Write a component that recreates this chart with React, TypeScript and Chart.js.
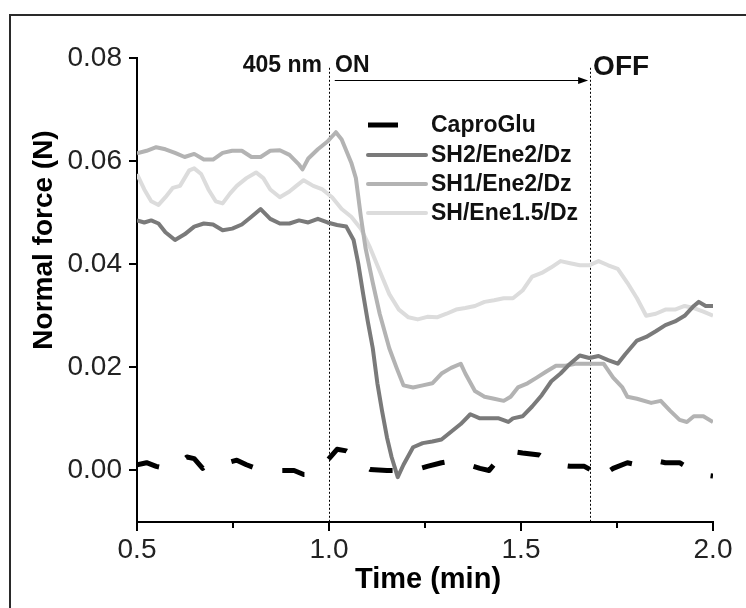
import React, { useEffect, useRef } from "react";
import { Chart, registerables } from "chart.js";

Chart.register(...registerables);

// ---------------- data ----------------
const seriesLabels = ["CaproGlu", "SH2/Ene2/Dz", "SH1/Ene2/Dz", "SH/Ene1.5/Dz"];

const caproTime = [0.5, 0.525, 0.55, 0.574, 0.599, 0.630, 0.649, 0.671, 0.686, 0.711, 0.736, 0.760, 0.785, 0.810, 0.847, 0.884, 0.909, 0.934, 0.953, 0.983, 1.021, 1.045, 1.064, 1.076, 1.107, 1.151, 1.219, 1.256, 1.293, 1.324, 1.362, 1.393, 1.417, 1.442, 1.467, 1.504, 1.548, 1.579, 1.597, 1.628, 1.665, 1.684, 1.702, 1.715, 1.740, 1.777, 1.802, 1.826, 1.851, 1.876, 1.913, 1.938, 1.969, 2.0];
const caproForce = [0.0011, 0.0015, 0.0008, 0.0004, 0.0008, 0.0026, 0.0023, 0.0004, 0.0015, 0.0015, 0.0015, 0.0020, 0.0011, 0.0004, 0.0000, 0.0000, 0.0000, -0.0008, -0.0008, 0.0008, 0.0041, 0.0038, 0.0030, 0.0015, 0.0002, 0.0000, 0.0000, 0.0008, 0.0015, 0.0019, 0.0011, 0.0004, 0.0000, 0.0023, 0.0038, 0.0034, 0.0030, 0.0015, 0.0011, 0.0008, 0.0008, 0.0000, -0.0019, -0.0008, 0.0004, 0.0015, 0.0011, 0.0019, 0.0019, 0.0015, 0.0015, 0.0004, -0.0008, -0.0011];

const sh2Time = [0.5, 0.519, 0.537, 0.556, 0.574, 0.599, 0.624, 0.649, 0.674, 0.698, 0.723, 0.748, 0.773, 0.798, 0.822, 0.847, 0.872, 0.897, 0.922, 0.946, 0.971, 0.996, 1.021, 1.045, 1.064, 1.076, 1.089, 1.101, 1.114, 1.126, 1.138, 1.151, 1.163, 1.179, 1.194, 1.219, 1.244, 1.269, 1.293, 1.318, 1.343, 1.368, 1.393, 1.417, 1.442, 1.467, 1.479, 1.504, 1.529, 1.554, 1.579, 1.603, 1.628, 1.653, 1.678, 1.702, 1.727, 1.752, 1.771, 1.802, 1.826, 1.851, 1.876, 1.901, 1.926, 1.950, 1.963, 1.981, 2.0];
const sh2Force = [0.0485, 0.0481, 0.0485, 0.0479, 0.0462, 0.0447, 0.0458, 0.0473, 0.0479, 0.0477, 0.0466, 0.0469, 0.0477, 0.0492, 0.0507, 0.0488, 0.0479, 0.0479, 0.0485, 0.0481, 0.0488, 0.0481, 0.0476, 0.0473, 0.0447, 0.0402, 0.0342, 0.0289, 0.0237, 0.0169, 0.0116, 0.0064, 0.0026, -0.0013, 0.0011, 0.0045, 0.0053, 0.0056, 0.0060, 0.0075, 0.0090, 0.0109, 0.0101, 0.0101, 0.0101, 0.0094, 0.0101, 0.0105, 0.0124, 0.0146, 0.0173, 0.0188, 0.0207, 0.0223, 0.0218, 0.0222, 0.0214, 0.0207, 0.0225, 0.0252, 0.0259, 0.0270, 0.0282, 0.0289, 0.0300, 0.0319, 0.0327, 0.0319, 0.0319];

const sh1Time = [0.5, 0.525, 0.550, 0.574, 0.599, 0.624, 0.649, 0.674, 0.698, 0.723, 0.748, 0.773, 0.798, 0.822, 0.847, 0.872, 0.897, 0.922, 0.931, 0.946, 0.971, 0.996, 1.018, 1.033, 1.058, 1.070, 1.083, 1.095, 1.114, 1.132, 1.157, 1.176, 1.194, 1.219, 1.244, 1.269, 1.293, 1.318, 1.343, 1.355, 1.380, 1.405, 1.430, 1.455, 1.473, 1.492, 1.517, 1.541, 1.566, 1.591, 1.616, 1.641, 1.678, 1.715, 1.740, 1.764, 1.777, 1.802, 1.839, 1.864, 1.888, 1.913, 1.932, 1.950, 1.975, 2.0];
const sh1Force = [0.0615, 0.0620, 0.0627, 0.0623, 0.0616, 0.0608, 0.0614, 0.0603, 0.0603, 0.0616, 0.0620, 0.0620, 0.0608, 0.0608, 0.0620, 0.0621, 0.0612, 0.0593, 0.0584, 0.0605, 0.0623, 0.0638, 0.0656, 0.0642, 0.0597, 0.0567, 0.0492, 0.0432, 0.0364, 0.0304, 0.0237, 0.0199, 0.0165, 0.0161, 0.0165, 0.0169, 0.0188, 0.0199, 0.0207, 0.0188, 0.0154, 0.0143, 0.0139, 0.0135, 0.0143, 0.0161, 0.0169, 0.0180, 0.0192, 0.0203, 0.0203, 0.0207, 0.0207, 0.0207, 0.0180, 0.0161, 0.0143, 0.0139, 0.0131, 0.0135, 0.0116, 0.0098, 0.0094, 0.0105, 0.0105, 0.0094];

const shTime = [0.5, 0.519, 0.537, 0.556, 0.574, 0.593, 0.612, 0.636, 0.649, 0.667, 0.686, 0.705, 0.723, 0.742, 0.760, 0.785, 0.810, 0.829, 0.847, 0.872, 0.897, 0.915, 0.934, 0.959, 0.983, 1.008, 1.033, 1.058, 1.083, 1.107, 1.132, 1.157, 1.182, 1.207, 1.231, 1.256, 1.281, 1.306, 1.331, 1.355, 1.380, 1.405, 1.430, 1.455, 1.479, 1.504, 1.529, 1.554, 1.579, 1.603, 1.628, 1.653, 1.678, 1.702, 1.727, 1.752, 1.777, 1.802, 1.826, 1.851, 1.876, 1.901, 1.926, 1.950, 1.975, 2.0];
const shForce = [0.0575, 0.0545, 0.0522, 0.0515, 0.0530, 0.0548, 0.0552, 0.0582, 0.0586, 0.0575, 0.0545, 0.0522, 0.0518, 0.0537, 0.0552, 0.0567, 0.0578, 0.0567, 0.0545, 0.0530, 0.0541, 0.0552, 0.0563, 0.0552, 0.0545, 0.0530, 0.0507, 0.0492, 0.0469, 0.0432, 0.0387, 0.0342, 0.0312, 0.0297, 0.0293, 0.0298, 0.0297, 0.0304, 0.0312, 0.0315, 0.0319, 0.0327, 0.0330, 0.0334, 0.0334, 0.0349, 0.0376, 0.0383, 0.0394, 0.0406, 0.0402, 0.0398, 0.0398, 0.0406, 0.0398, 0.0391, 0.0364, 0.0334, 0.0300, 0.0304, 0.0312, 0.0312, 0.0319, 0.0315, 0.0308, 0.0300];

const xTickValues = [0.5, 1.0, 1.5, 2.0];
const xMinorTickValues = [0.75, 1.25, 1.75];
const yTickValues = [0.0, 0.02, 0.04, 0.06, 0.08];

// annotation values (data units)
const lightOnTime = 1.0;
const lightOffTime = 1.68;
const arrowStartTime = 1.015;
const arrowForce = 0.0757;
const markerTopForce = 0.0781;

const FONT = '"Liberation Sans", Arial, Helvetica, sans-serif';

const colors = ["#000000", "#7a7a7a", "#b3b3b3", "#dcdcdc"];

function toPoints(t: number[], f: number[]) {
  return t.map((x, i) => ({ x, y: f[i] }));
}

const decorPlugin = {
  id: "decor",
  beforeDraw(chart: any) {
    const ctx = chart.ctx;
    ctx.save();
    ctx.fillStyle = "#ffffff";
    ctx.fillRect(0, 0, chart.width, chart.height);
    ctx.strokeStyle = "#2a2a2a";
    ctx.lineWidth = 2;
    ctx.strokeRect(10, 15, chart.width + 40, chart.height + 40);
    ctx.restore();
  },
  beforeDatasetsDraw(chart: any) {
    const { ctx, scales } = chart;
    const x = scales.x;
    const y = scales.y;
    ctx.save();
    ctx.strokeStyle = "#000";
    ctx.lineWidth = 1;
    ctx.setLineDash([2, 2]);
    [lightOnTime, lightOffTime].forEach((t) => {
      const px = Math.round(x.getPixelForValue(t)) + 0.5;
      ctx.beginPath();
      ctx.moveTo(px, y.getPixelForValue(markerTopForce));
      ctx.lineTo(px, chart.chartArea.bottom);
      ctx.stroke();
    });
    ctx.restore();
  },
  afterDraw(chart: any) {
    const { ctx, scales, chartArea } = chart;
    const x = scales.x;
    const y = scales.y;
    ctx.save();
    // minor x ticks
    ctx.strokeStyle = "#000";
    ctx.lineWidth = 2;
    xMinorTickValues.forEach((t) => {
      const px = Math.round(x.getPixelForValue(t));
      ctx.beginPath();
      ctx.moveTo(px, chartArea.bottom);
      ctx.lineTo(px, chartArea.bottom + 6);
      ctx.stroke();
    });

    // arrow
    const ay = Math.round(y.getPixelForValue(arrowForce)) + 0.5;
    const ax0 = x.getPixelForValue(arrowStartTime);
    const ax1 = x.getPixelForValue(lightOffTime) - 2;
    ctx.lineWidth = 1;
    ctx.beginPath();
    ctx.moveTo(ax0, ay);
    ctx.lineTo(ax1 - 8, ay);
    ctx.stroke();
    ctx.fillStyle = "#000";
    ctx.beginPath();
    ctx.moveTo(ax1, ay);
    ctx.lineTo(ax1 - 10, ay - 3.5);
    ctx.lineTo(ax1 - 10, ay + 3.5);
    ctx.closePath();
    ctx.fill();

    // annotation text
    const onPx = x.getPixelForValue(lightOnTime);
    const offPx = x.getPixelForValue(lightOffTime);
    ctx.fillStyle = "#111";
    ctx.textBaseline = "alphabetic";
    ctx.font = `bold 23px ${FONT}`;
    ctx.textAlign = "right";
    ctx.fillText("405 nm", onPx - 7, 72);
    ctx.textAlign = "left";
    ctx.fillText("ON", onPx + 6, 72);
    ctx.font = `bold 28px ${FONT}`;
    ctx.fillText("OFF", offPx + 3, 75);

    // legend
    const legendX = 368;
    const legendTextX = 431;
    const rowY = [125, 155, 184, 213];
    chart.data.datasets.forEach((ds: any, i: number) => {
      const cy = rowY[i];
      ctx.strokeStyle = ds.borderColor;
      ctx.lineWidth = ds.borderWidth;
      ctx.setLineDash([]);
      ctx.lineCap = i === 0 ? "butt" : "round";
      ctx.beginPath();
      ctx.moveTo(legendX, cy);
      ctx.lineTo(i === 0 ? legendX + 30 : legendX + 58, cy);
      ctx.stroke();
      ctx.fillStyle = "#111";
      ctx.font = `bold 23px ${FONT}`;
      ctx.textAlign = "left";
      ctx.textBaseline = "middle";
      ctx.fillText(ds.label, legendTextX, cy + 1);
    });

    // axis titles
    ctx.fillStyle = "#000";
    ctx.font = `bold 29px ${FONT}`;
    ctx.textAlign = "center";
    ctx.textBaseline = "middle";
    ctx.fillText("Time (min)", (chartArea.left + chartArea.right) / 2 + 3, 580);
    ctx.font = `bold 28px ${FONT}`;
    ctx.save();
    ctx.translate(44, 240);
    ctx.rotate(-Math.PI / 2);
    ctx.fillText("Normal force (N)", 0, 0);
    ctx.restore();
    ctx.restore();
  },
};

export default function App() {
  const canvasRef = useRef<HTMLCanvasElement | null>(null);

  useEffect(() => {
    document.body.style.margin = "0";
    document.body.style.overflow = "hidden";
    const canvas = canvasRef.current;
    if (!canvas) return;
    const datasets = [
      {
        label: seriesLabels[0],
        data: toPoints(caproTime, caproForce),
        borderColor: colors[0],
        borderWidth: 5,
        borderDash: [23, 30],
        borderCapStyle: "butt",
      },
      { label: seriesLabels[1], data: toPoints(sh2Time, sh2Force), borderColor: colors[1], borderWidth: 4 },
      { label: seriesLabels[2], data: toPoints(sh1Time, sh1Force), borderColor: colors[2], borderWidth: 4 },
      { label: seriesLabels[3], data: toPoints(shTime, shForce), borderColor: colors[3], borderWidth: 4 },
    ].map((d) => ({ ...d, pointRadius: 0, tension: 0, fill: false, borderJoinStyle: "round" as const }));

    const chart = new Chart(canvas, {
      type: "line",
      data: { datasets: datasets as any },
      options: {
        animation: false,
        responsive: false,
        maintainAspectRatio: false,
        devicePixelRatio: 1,
        layout: { padding: { left: 0, top: 58, right: 33, bottom: 0 } },
        plugins: { legend: { display: false }, tooltip: { enabled: false } },
        scales: {
          x: {
            type: "linear",
            min: 0.5,
            max: 2.0,
            afterBuildTicks: (s: any) => {
              s.ticks = xTickValues.map((v) => ({ value: v }));
            },
            afterFit: (s: any) => {
              s.height = 86;
            },
            ticks: {
              autoSkip: false,
              maxRotation: 0,
              padding: 2,
              color: "#222",
              font: { family: FONT, size: 28 },
              callback: (v: any) => Number(v).toFixed(1),
            },
            grid: { display: true, drawOnChartArea: false, drawTicks: true, tickLength: 9, color: "#000", lineWidth: 2 },
            border: { display: true, color: "#000", width: 2 },
          },
          y: {
            type: "linear",
            min: -0.01,
            max: 0.08,
            afterBuildTicks: (s: any) => {
              s.ticks = yTickValues.map((v) => ({ value: v }));
            },
            afterFit: (s: any) => {
              s.width = 137;
            },
            ticks: {
              autoSkip: false,
              padding: 7,
              color: "#222",
              font: { family: FONT, size: 28 },
              callback: (v: any) => Number(v).toFixed(2),
            },
            grid: { display: true, drawOnChartArea: false, drawTicks: true, tickLength: 8, color: "#000", lineWidth: 2 },
            border: { display: true, color: "#000", width: 2 },
          },
        },
      },
      plugins: [decorPlugin],
    });
    return () => chart.destroy();
  }, []);

  return (
    <div style={{ position: "fixed", left: 0, top: 0, width: 746, height: 608, overflow: "hidden", background: "#fff" }}>
      <canvas ref={canvasRef} width={746} height={608} style={{ display: "block", width: 746, height: 608 }} />
    </div>
  );
}
